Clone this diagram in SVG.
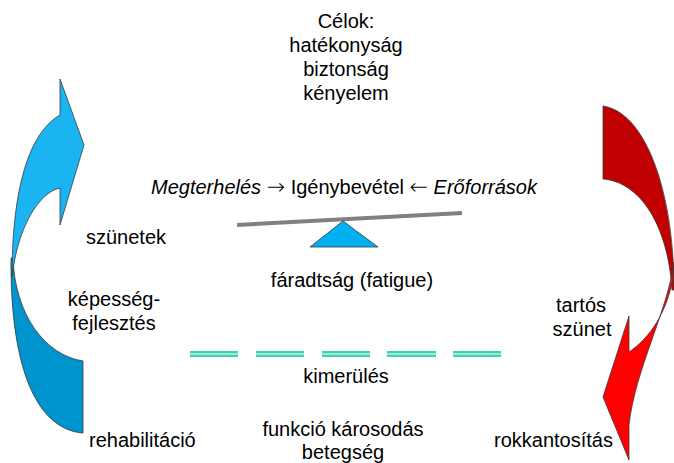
<svg xmlns="http://www.w3.org/2000/svg" width="674" height="463" viewBox="0 0 674 463">
<style>
text{font-family:"Liberation Sans",Arial,sans-serif;font-size:20px;fill:#000}
.c{text-anchor:middle}
.i{font-style:italic}
.ar{font-family:"DejaVu Sans",sans-serif;font-size:22px;font-weight:200}
.ol{stroke:#3a3a3a;stroke-width:0.8;stroke-linejoin:miter}
.dash{stroke:#3CD4B0;stroke-width:6}
.dashc{stroke:#B8F4E6;stroke-width:1.4}
</style>
<rect width="674" height="463" fill="#fff"/>
<g id="left-arrow">
<path class="ol" fill="#0094CE" d="M83,361 C45,355 15,315 13,258 L11,258 C10,375 40,430 83,433 Z"/>
<path class="ol" fill="#1AB4F2" d="M12,277 C12,200 25,135 60,115 L60,79 L84,145 L60,225 L60,188 C40,192 18,225 12,277 Z"/>
</g>
<g id="right-arrow">
<path class="ol" fill="#C00000" d="M603,106 C645,112 674,190 674,290 L672,290 C668,225 640,182 603,179 Z"/>
<path class="ol" fill="#FF0000" d="M674,262 C668,310 635,370 629,425 L629,460 L603,397 L629,316 L629,352 C650,338 667,312 673,278 Z"/>
</g>
<g id="seesaw">
<line x1="237" y1="225" x2="462" y2="213" stroke="#808080" stroke-width="4"/>
<polygon class="ol" fill="#00B0F0" points="343,221 310,247 378,247"/>
</g>
<g id="connectors">
<line class="dash" x1="190" y1="354" x2="238" y2="354"/>
<line class="dash" x1="256" y1="354" x2="304" y2="354"/>
<line class="dash" x1="322" y1="354" x2="370" y2="354"/>
<line class="dash" x1="387" y1="354" x2="436" y2="354"/>
<line class="dash" x1="453" y1="354" x2="501" y2="354"/>
<line class="dashc" x1="190" y1="354" x2="238" y2="354"/>
<line class="dashc" x1="256" y1="354" x2="304" y2="354"/>
<line class="dashc" x1="322" y1="354" x2="370" y2="354"/>
<line class="dashc" x1="387" y1="354" x2="436" y2="354"/>
<line class="dashc" x1="453" y1="354" x2="501" y2="354"/>
</g>
<g id="goals">
<text class="c" x="346" y="28">Célok:</text>
<text class="c" x="346" y="52">hatékonyság</text>
<text class="c" x="346" y="76">biztonság</text>
<text class="c" x="346" y="100">kényelem</text>
</g>
<g id="balance-label">
<text class="c" x="344" y="194"><tspan class="i">Megterhelés</tspan> <tspan class="ar">→</tspan> Igénybevétel <tspan class="ar">←</tspan> <tspan class="i">Erőforrások</tspan></text>
</g>
<g id="labels">
<text x="86" y="244">szünetek</text>
<text class="c" x="114" y="306">képesség-</text>
<text class="c" x="114" y="330">fejlesztés</text>
<text class="c" x="352" y="287">fáradtság (fatigue)</text>
<text class="c" x="346" y="383">kimerülés</text>
<text class="c" x="343" y="436">funkció károsodás</text>
<text class="c" x="343" y="459">betegség</text>
<text x="89" y="447">rehabilitáció</text>
<text class="c" x="581" y="312">tartós</text>
<text class="c" x="582" y="336">szünet</text>
<text x="494" y="447">rokkantosítás</text>
</g>
</svg>
